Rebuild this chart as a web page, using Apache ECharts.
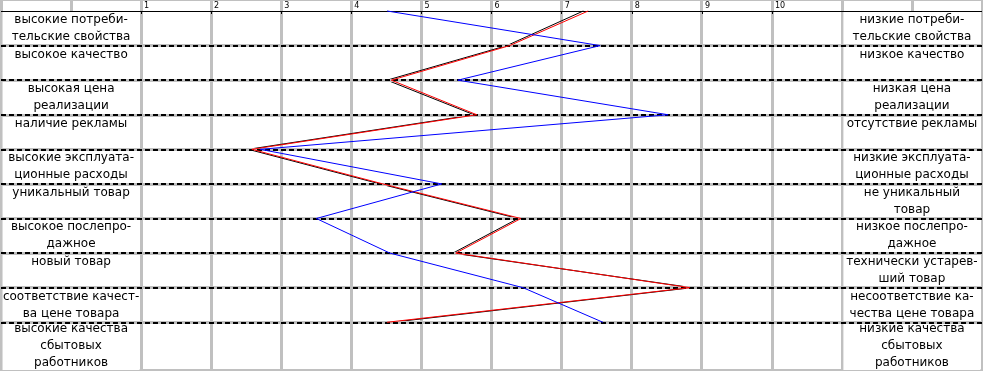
<!DOCTYPE html>
<html><head><meta charset="utf-8">
<script src="https://cdn.jsdelivr.net/npm/echarts@6/dist/echarts.min.js"></script>
<style>html,body{margin:0;padding:0;background:#fff}#c{width:983px;height:371px}</style>
</head><body><div id="c"></div>
<script>
// ---- data ----
const leftLabels = [
  'высокие потреби-\nтельские свойства',
  'высокое качество',
  'высокая цена\nреализации',
  'наличие рекламы',
  'высокие эксплуата-\nционные расходы',
  'уникальный товар',
  'высокое послепро-\nдажное',
  'новый товар',
  'соответствие качест-\nва цене товара',
  'высокие качества\nсбытовых\nработников'
];
const rightLabels = [
  'низкие потреби-\nтельские свойства',
  'низкое качество',
  'низкая цена\nреализации',
  'отсутствие рекламы',
  'низкие эксплуата-\nционные расходы',
  'не уникальный\nтовар',
  'низкое послепро-\nдажное',
  'технически устарев-\nший товар',
  'несоответствие ка-\nчества цене товара',
  'низкие качества\nсбытовых\nработников'
];
const tickLabels = ['1','2','3','4','5','6','7','8','9','10'];
const blackValues = [7.31, 6.22, 4.51, 5.75, 2.53, 4.41, 6.38, 5.45, 8.86, 4.58];
const redValues   = [7.38, 6.26, 4.57, 5.79, 2.58, 4.45, 6.42, 5.49, 8.83, 4.51];
const blueValues  = [4.51, 7.55, 5.52, 8.52, 2.70, 5.29, 3.50, 4.55, 6.45, 7.59];

// ---- layout constants ----
const X_MIN = -1, X_MAX = 13;
const Y_TOP = -0.318, Y_BOTTOM = 10.38;
const INSET = 0.022;
const FONT = 'DejaVu Sans';
const GRAY = '#c0c0c0';

function cellLabel(t){ return t.indexOf('\n') < 0 ? t + '\n ' : t; }
function cells(labels, x0, x1){
  return labels.map((t, k) => [
    {name: cellLabel(t), xAxis: x0 + INSET, yAxis: k},
    {xAxis: x1 - INSET, yAxis: k === labels.length - 1 ? Y_BOTTOM : k + 1}
  ]);
}
const boundaries = [];
for (let k = 1; k < leftLabels.length; k++) boundaries.push({yAxis: k});

const chart = echarts.init(document.getElementById('c'), null, {renderer: 'canvas'});
chart.setOption({
  animation: false,
  backgroundColor: '#fff',
  grid: [
    {left: 1, right: 1, top: 0, bottom: 1, show: true, borderColor: GRAY, borderWidth: 2, backgroundColor: '#fff'},
    {left: 141, right: 211, top: 11, bottom: 1}
  ],
  xAxis: [
    {gridIndex: 0, type: 'value', min: X_MIN, max: X_MAX, interval: 1,
     axisLine: {show: false}, axisTick: {show: false}, axisLabel: {show: false},
     splitLine: {show: true, lineStyle: {color: GRAY, width: 3}}},
    {gridIndex: 1, type: 'value', position: 'top', min: 1, max: 10, interval: 1,
     axisLine: {show: true, onZero: false, lineStyle: {color: '#000', width: 1}},
     axisTick: {show: true, inside: true, length: 3, lineStyle: {color: '#000'}},
     axisLabel: {show: true, margin: 1, fontSize: 8, fontFamily: FONT, color: '#000', align: 'left',
                 padding: [0, 0, 0, 3], formatter: v => tickLabels[v - 1]},
     splitLine: {show: false}}
  ],
  yAxis: [
    {gridIndex: 0, type: 'value', inverse: true, min: Y_TOP, max: Y_BOTTOM, show: false},
    {gridIndex: 1, type: 'value', min: 0, max: 1, show: false}
  ],
  series: [
    {type: 'line', data: [], z: 1, silent: true,
     markArea: {silent: true, itemStyle: {color: '#fff', borderWidth: 0, opacity: 1},
       label: {show: true, position: 'inside', color: '#000', fontSize: 12, fontFamily: FONT, lineHeight: 17,
               formatter: p => p.name},
       data: cells(leftLabels, X_MIN, 1).concat(cells(rightLabels, 11, X_MAX))}},
    {type: 'line', data: [], z: 2, silent: true,
     markLine: {silent: true, symbol: 'none', label: {show: false},
       lineStyle: {color: GRAY, width: 3, type: 'solid'}, data: boundaries}},
    {type: 'line', data: [], z: 3, silent: true,
     markLine: {silent: true, symbol: 'none', label: {show: false},
       lineStyle: {color: '#000', width: 2, type: [5, 3]}, data: boundaries}},
    {type: 'line', data: [], z: 3, silent: true,
     markLine: {silent: true, symbol: 'none', label: {show: false},
       lineStyle: {color: '#000', width: 1, type: 'solid'}, data: [{yAxis: 0}]}},
    {type: 'line', name: 'black', z: 4, symbol: 'none', lineStyle: {color: '#000', width: 1},
     data: blackValues.map((v, i) => [v, i])},
    {type: 'line', name: 'red', z: 5, symbol: 'none', lineStyle: {color: '#ff0000', width: 1},
     data: redValues.map((v, i) => [v, i])},
    {type: 'line', name: 'blue', z: 6, symbol: 'none', lineStyle: {color: '#0000ff', width: 1},
     data: blueValues.map((v, i) => [v, i])}
  ]
});
</script></body></html>
